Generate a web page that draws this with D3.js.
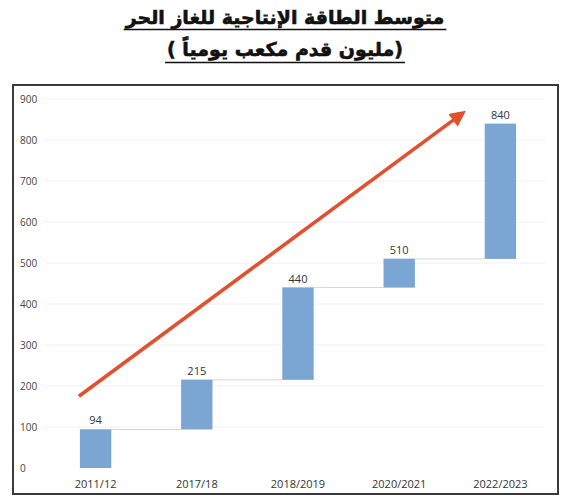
<!DOCTYPE html>
<html>
<head>
<meta charset="utf-8">
<script src="https://cdn.jsdelivr.net/npm/d3@7"></script>
<style>
  body { margin: 0; background: #fff; }
  text { font-family: "Open Sans", "DejaVu Sans", sans-serif; }
</style>
</head>
<body>
<div id="container"></div>
<script>
/* CONSTANTS AND GLOBALS */
const width = 563;
const height = 500;

/* DATA */
const titleLines = ["متوسط الطاقة الإنتاجية للغاز الحر", "(مليون قدم مكعب يومياً )"];
const years = ["2011/12", "2017/18", "2018/2019", "2020/2021", "2022/2023"];
const capacity = [94, 215, 440, 510, 840];
const yTicks = [0, 100, 200, 300, 400, 500, 600, 700, 800, 900];
// trend arrow, given in chart units: start/end category and value
const arrowFrom = {year: "2011/12", value: 175};
const arrowTo = {year: "2022/2023", value: 862};

// waterfall: each bar goes from the previous level to the new one
const steps = capacity.map((v, i) => ({
  year: years[i],
  from: i === 0 ? 0 : capacity[i - 1],
  to: v
}));

/* SCALES */
const xScale = d3.scaleBand()
  .domain(years)
  .range([45, 551])
  .paddingInner(0.69)
  .paddingOuter(0.345);

const yScale = d3.scaleLinear()
  .domain([0, 900])
  .range([468, 99]);

/* HTML ELEMENTS */
const svg = d3.select("#container")
  .append("svg")
  .attr("width", width)
  .attr("height", height);

// title
const titles = svg.selectAll("text.title")
  .data(titleLines)
  .join("text")
  .attr("class", "title")
  .attr("x", 285)
  .attr("y", (d, i) => 24 + i * 32)
  .attr("text-anchor", "middle")
  .attr("direction", "rtl")
  .style("font-family", "'DejaVu Sans', sans-serif")
  .style("font-weight", "bold")
  .style("font-size", "19px")
  .attr("fill", "#111")
  .attr("stroke", "#111")
  .attr("stroke-width", 0.6)
  .text(d => d);

// underline each title line
titles.each(function(d, i) {
  const w = this.getComputedTextLength();
  svg.append("line")
    .attr("x1", 285 - w / 2 - 2)
    .attr("x2", 285 + w / 2 + 2)
    .attr("y1", 29.5 + i * 33)
    .attr("y2", 29.5 + i * 33)
    .attr("stroke", "#111")
    .attr("stroke-width", 1.5);
});

// frame
svg.append("rect")
  .attr("x", 13)
  .attr("y", 85)
  .attr("width", 545)
  .attr("height", 409)
  .attr("fill", "none")
  .attr("stroke", "#3a3a3a")
  .attr("stroke-width", 2);

// gridlines
svg.selectAll("line.grid")
  .data(yTicks.slice(1))
  .join("line")
  .attr("class", "grid")
  .attr("x1", 45)
  .attr("x2", 545)
  .attr("y1", d => yScale(d))
  .attr("y2", d => yScale(d))
  .attr("stroke", "#f0f0f0")
  .attr("stroke-width", 1);

// y axis labels
svg.selectAll("text.ytick")
  .data(yTicks)
  .join("text")
  .attr("class", "ytick")
  .attr("x", 20)
  .attr("y", d => yScale(d) + 4)
  .attr("fill", "#444")
  .style("font-size", "10px")
  .text(d => d);

// connectors between bars
svg.selectAll("line.connector")
  .data(steps.slice(0, -1))
  .join("line")
  .attr("class", "connector")
  .attr("x1", d => xScale(d.year))
  .attr("x2", (d, i) => xScale(years[i + 1]))
  .attr("y1", d => yScale(d.to))
  .attr("y2", d => yScale(d.to))
  .attr("stroke", "#d4d4d4")
  .attr("stroke-width", 1);

// bars
svg.selectAll("rect.bar")
  .data(steps)
  .join("rect")
  .attr("class", "bar")
  .attr("x", d => xScale(d.year))
  .attr("width", xScale.bandwidth())
  .attr("y", d => yScale(d.to))
  .attr("height", d => yScale(d.from) - yScale(d.to))
  .attr("fill", "#7ba6d4");

// value labels
svg.selectAll("text.label")
  .data(steps)
  .join("text")
  .attr("class", "label")
  .attr("x", d => xScale(d.year) + xScale.bandwidth() / 2)
  .attr("y", d => yScale(d.to) - 5)
  .attr("text-anchor", "middle")
  .attr("fill", "#333")
  .style("font-size", "11px")
  .text(d => d.to);

// x axis labels
svg.selectAll("text.xtick")
  .data(years)
  .join("text")
  .attr("class", "xtick")
  .attr("x", d => xScale(d) + xScale.bandwidth() / 2)
  .attr("y", 488)
  .attr("text-anchor", "middle")
  .attr("fill", "#333")
  .style("font-size", "11px")
  .text(d => d);

// trend arrow
svg.append("defs").append("marker")
  .attr("id", "head")
  .attr("viewBox", "0 0 10 10")
  .attr("refX", 6)
  .attr("refY", 5)
  .attr("markerWidth", 4.5)
  .attr("markerHeight", 4.5)
  .attr("orient", "auto")
  .append("path")
  .attr("d", "M0,0 L10,5 L0,10 Z")
  .attr("fill", "#e2502f");

svg.append("line")
  .attr("x1", xScale(arrowFrom.year) - 1)
  .attr("y1", yScale(arrowFrom.value))
  .attr("x2", xScale(arrowTo.year) - 24)
  .attr("y2", yScale(arrowTo.value))
  .attr("stroke", "#e2502f")
  .attr("stroke-width", 3.6)
  .attr("marker-end", "url(#head)");
</script>
</body>
</html>
